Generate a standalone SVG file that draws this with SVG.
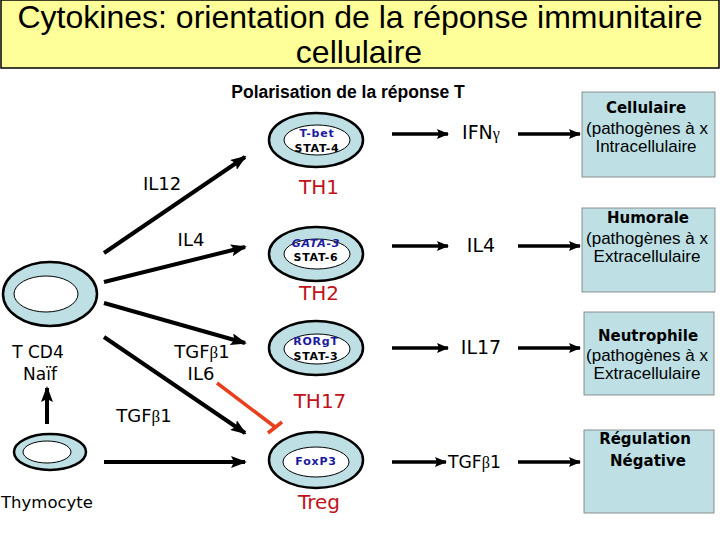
<svg xmlns="http://www.w3.org/2000/svg" width="720" height="540" viewBox="0 0 720 540">
<defs>
<marker id="ah" markerUnits="userSpaceOnUse" markerWidth="16" markerHeight="12" refX="14" refY="6" orient="auto">
<path d="M0,0 L16,6 L0,12 L3,6 Z" fill="#000"/>
</marker>
<marker id="ahs" markerUnits="userSpaceOnUse" markerWidth="12" markerHeight="10" refX="11" refY="5" orient="auto">
<path d="M0,0 L12,5 L0,10 L2,5 Z" fill="#000"/>
</marker>
<style>
.cell{fill:#BEE0E5;stroke:#000;stroke-width:2.5}
.inner{fill:#fff;stroke:#000;stroke-width:1}
.box{fill:#BEE0E5;stroke:#777;stroke-width:0.8}
.c{font-family:"DejaVu Sans",sans-serif;fill:#000}
.a{font-family:"Liberation Sans",Arial,sans-serif;fill:#000}
.red{font-family:"DejaVu Sans",sans-serif;fill:#C0121A;font-size:20px;text-anchor:middle}
.in{font-family:"DejaVu Sans",sans-serif;font-weight:bold;font-size:11px;text-anchor:middle;letter-spacing:0.8px}
.hd{font-family:"DejaVu Sans",sans-serif;font-weight:bold;font-size:15px;text-anchor:middle}
.sub{font-family:"Liberation Sans",Arial,sans-serif;font-size:17px;text-anchor:middle}
.ar{stroke:#000;stroke-width:4;fill:none;marker-end:url(#ah)}
.ar2{stroke:#000;stroke-width:3.5;fill:none;marker-end:url(#ahs)}
</style>
</defs>
<rect width="720" height="540" fill="#fff"/>
<g id="title">
<rect x="1" y="0" width="718" height="68" fill="#FFFF99" stroke="#000" stroke-width="1.5"/>
<text class="a" x="360" y="28" font-size="32" text-anchor="middle" textLength="685" lengthAdjust="spacingAndGlyphs">Cytokines: orientation de la réponse immunitaire</text>
<text class="a" x="359" y="63" font-size="32" text-anchor="middle">cellulaire</text>
</g>
<text class="a" x="348" y="98" font-size="17.5" font-weight="bold" text-anchor="middle">Polarisation de la réponse T</text>
<g id="tcd4">
<ellipse class="cell" cx="50" cy="294" rx="47" ry="32"/>
<ellipse class="inner" cx="46" cy="294" rx="32" ry="18"/>
<text class="c" x="38" y="358" font-size="17" text-anchor="middle">T CD4</text>
<text class="c" x="40" y="380" font-size="17" text-anchor="middle">Naïf</text>
</g>
<g id="thymocyte">
<ellipse class="cell" cx="50" cy="452" rx="36" ry="18"/>
<ellipse class="inner" cx="47" cy="452" rx="24" ry="11"/>
<text class="c" x="47" y="508" font-size="16.5" text-anchor="middle">Thymocyte</text>
</g>
<g id="th1">
<ellipse class="cell" cx="316" cy="140" rx="47" ry="27"/>
<ellipse class="inner" cx="317" cy="140" rx="33" ry="15"/>
<text class="in" x="317" y="137" fill="#1A1AA0">T-bet</text>
<text class="in" x="317" y="152" fill="#000">STAT-4</text>
<text class="red" x="319" y="194">TH1</text>
</g>
<g id="th2">
<ellipse class="cell" cx="316" cy="254" rx="47" ry="27"/>
<ellipse class="inner" cx="317" cy="254" rx="33" ry="15"/>
<text class="in" x="316" y="247" fill="#1A1AA0" font-style="italic" font-size="10" letter-spacing="0">GATA-3</text>
<text class="in" x="316" y="261" fill="#000">STAT-6</text>
<text class="red" x="319" y="300">TH2</text>
</g>
<g id="th17">
<ellipse class="cell" cx="316" cy="348" rx="47" ry="27"/>
<ellipse class="inner" cx="317" cy="349" rx="33" ry="15"/>
<text class="in" x="316" y="345" fill="#1A1AA0" font-size="9.5" letter-spacing="0">RORgT</text>
<text class="in" x="316" y="360" fill="#000">STAT-3</text>
<text class="red" x="320" y="408">TH17</text>
</g>
<g id="treg">
<ellipse class="cell" cx="316" cy="460" rx="47" ry="28"/>
<ellipse class="inner" cx="316" cy="462" rx="33" ry="15"/>
<text class="in" x="316" y="465" fill="#1A1AA0" font-size="9.5" letter-spacing="0">FoxP3</text>
<text class="red" x="319" y="509">Treg</text>
</g>
<g id="box-cellulaire">
<rect class="box" x="582" y="92" width="133" height="85"/>
<text class="hd" x="646" y="113">Cellulaire</text>
<text class="sub" x="647" y="134">(pathogènes à x</text>
<text class="sub" x="646" y="152">Intracellulaire</text>
</g>
<g id="box-humorale">
<rect class="box" x="582" y="208" width="133" height="84"/>
<text class="hd" x="648" y="223">Humorale</text>
<text class="sub" x="647" y="244">(pathogènes à x</text>
<text class="sub" x="647" y="262">Extracellulaire</text>
</g>
<g id="box-neutrophile">
<rect class="box" x="584" y="312" width="130" height="83"/>
<text class="hd" x="648" y="341">Neutrophile</text>
<text class="sub" x="647" y="361">(pathogènes à x</text>
<text class="sub" x="647" y="379">Extracellulaire</text>
</g>
<g id="box-regulation">
<rect class="box" x="584" y="430" width="130" height="83"/>
<text class="hd" x="645" y="444">Régulation</text>
<text class="hd" x="648" y="466">Négative</text>
</g>
<g id="connectors">
<line class="ar" x1="104" y1="253" x2="245" y2="157"/>
<line class="ar" x1="104" y1="282" x2="245" y2="247"/>
<line class="ar" x1="104" y1="303" x2="245" y2="343"/>
<line class="ar" x1="104" y1="337" x2="245" y2="433"/>
<line class="ar" x1="104" y1="462" x2="245" y2="462"/>
<line class="ar" x1="47" y1="424" x2="47" y2="388"/>
<line x1="217" y1="383" x2="275" y2="427" stroke="#E8401C" stroke-width="3.5"/>
<line x1="268" y1="433" x2="282" y2="422" stroke="#E8401C" stroke-width="3.5"/>
<line class="ar2" x1="392" y1="134" x2="448" y2="134"/>
<line class="ar2" x1="392" y1="246" x2="448" y2="246"/>
<line class="ar2" x1="392" y1="348" x2="448" y2="348"/>
<line class="ar2" x1="392" y1="462" x2="446" y2="462"/>
<line class="ar2" x1="518" y1="134" x2="580" y2="134"/>
<line class="ar2" x1="518" y1="246" x2="580" y2="246"/>
<line class="ar2" x1="518" y1="348" x2="580" y2="348"/>
<line class="ar2" x1="518" y1="462" x2="580" y2="462"/>
</g>
<g id="labels">
<text class="c" x="162" y="190" font-size="18" text-anchor="middle">IL12</text>
<text class="c" x="191" y="246" font-size="18" text-anchor="middle">IL4</text>
<text class="c" x="202" y="358" font-size="18" text-anchor="middle">TGF<tspan font-family="Liberation Serif,serif" font-size="17">β</tspan>1</text>
<text class="c" x="201" y="380" font-size="18" text-anchor="middle">IL6</text>
<text class="c" x="144" y="422" font-size="18" text-anchor="middle">TGF<tspan font-family="Liberation Serif,serif" font-size="17">β</tspan>1</text>
<text class="c" x="481" y="139" font-size="19" text-anchor="middle">IFN<tspan font-family="Liberation Serif,serif" font-size="16">γ</tspan></text>
<text class="c" x="481" y="252" font-size="19" text-anchor="middle">IL4</text>
<text class="c" x="481" y="354" font-size="19" text-anchor="middle">IL17</text>
<text class="c" x="448" y="468" font-size="18" textLength="53" lengthAdjust="spacingAndGlyphs">TGF<tspan font-family="Liberation Serif,serif" font-size="17">β</tspan>1</text>
</g>
</svg>
